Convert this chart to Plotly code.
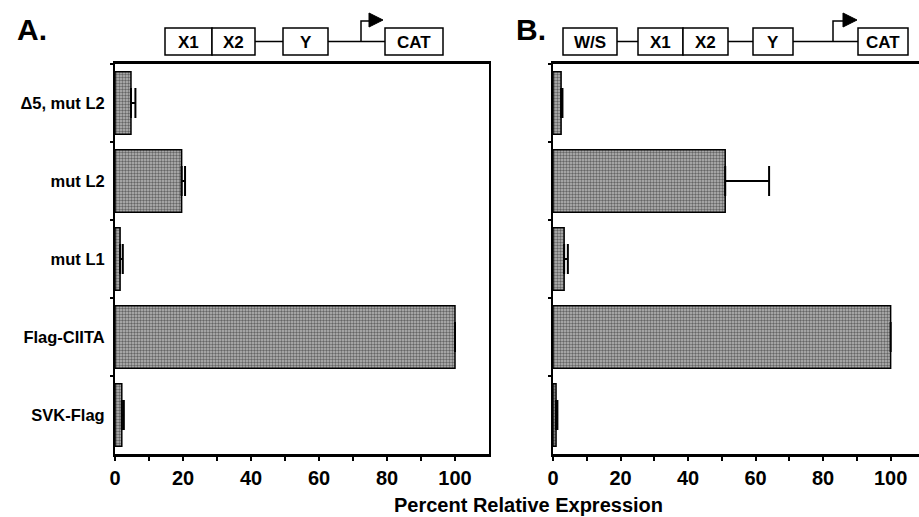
import plotly.graph_objects as go

W, H = 919, 517

categories = ["\u03945, mut L2", "mut L2", "mut L1", "Flag-CIITA", "SVK-Flag"]
values_a = [4.7, 19.6, 1.5, 100.0, 2.0]
errors_a = [1.3, 1.0, 0.8, 0.0, 0.6]
values_b = [2.4, 51.0, 3.3, 100.0, 0.9]
errors_b = [0.4, 13.0, 1.1, 0.0, 0.4]
x_ticks = [0, 20, 40, 60, 80, 100]

FONT = "Liberation Sans"


def px(x):
    return x / W


def py(y):
    return 1 - y / H


bar_marker = dict(
    color="#a0a0a0",
    line=dict(color="black", width=1.5),
    pattern=dict(shape=".", fgcolor="#111111", bgcolor="#b8b8b8", size=3, solidity=0.5),
)
err_style = dict(type="data", symmetric=False, color="black", thickness=2, width=15)

fig = go.Figure()
fig.add_trace(go.Bar(
    x=values_a, y=categories, orientation="h", marker=bar_marker,
    error_x=dict(array=errors_a, arrayminus=[0] * len(errors_a), **err_style),
    xaxis="x", yaxis="y", showlegend=False,
))
fig.add_trace(go.Bar(
    x=values_b, y=categories, orientation="h", marker=bar_marker,
    error_x=dict(array=errors_b, arrayminus=[0] * len(errors_b), **err_style),
    xaxis="x2", yaxis="y2", showlegend=False,
))

y_dom = [py(454), py(64)]
xcommon = dict(
    tickmode="array", tickvals=x_ticks, ticks="outside", ticklen=4, tickwidth=2,
    tickcolor="black", showline=True, linecolor="black", linewidth=2.5,
    showgrid=False, zeroline=False, mirror=True, automargin=False,
    tickfont=dict(family=FONT, size=20, color="black", weight="bold"),
    minor=dict(tickmode="array", tickvals=[10, 30, 50, 70, 90], ticks="outside",
               ticklen=4, tickwidth=2, tickcolor="black", showgrid=False),
)
ycommon = dict(
    type="category", autorange="reversed", tickson="boundaries", ticks="outside",
    ticklen=3, tickwidth=2, tickcolor="black", showline=True, linecolor="black",
    linewidth=2, showgrid=False, zeroline=False, domain=y_dom, automargin=False,
)

fig.update_layout(
    width=W, height=H, margin=dict(l=0, r=0, t=0, b=0, autoexpand=False),
    paper_bgcolor="white", plot_bgcolor="white", bargap=0.2,
    xaxis=dict(domain=[px(115), px(489)], range=[0, 110], anchor="y", **xcommon),
    xaxis2=dict(domain=[px(553), 1.0], range=[0, 108.4], anchor="y2", **xcommon),
    yaxis=dict(anchor="x", mirror=True, showticklabels=True,
               tickfont=dict(family=FONT, size=16.5, color="black", weight="bold"),
               ticklabelstandoff=5, **ycommon),
    yaxis2=dict(anchor="x2", mirror=False, showticklabels=False, **ycommon),
)


def label(text, x, y, size):
    return dict(text=text, x=px(x), y=py(y), xref="paper", yref="paper", showarrow=False,
                xanchor="center", yanchor="middle",
                font=dict(family=FONT, size=size, color="black", weight="bold"))


annotations = [
    label("Percent Relative Expression", 528, 505, 20),
    label("A.", 32, 29, 30),
    label("B.", 531, 29, 30),
]
shapes = []

BOX_T, BOX_B, MID = 28, 55, 41.5


def box(x0, x1, text):
    shapes.append(dict(type="rect", xref="paper", yref="paper", x0=px(x0), x1=px(x1),
                       y0=py(BOX_B), y1=py(BOX_T), line=dict(color="black", width=1.5),
                       fillcolor="white", layer="below"))
    annotations.append(label(text, (x0 + x1) / 2, (BOX_T + BOX_B) / 2 + 1, 17))


def hline(x0, x1):
    shapes.append(dict(type="line", xref="paper", yref="paper", x0=px(x0), x1=px(x1),
                       y0=py(MID), y1=py(MID), line=dict(color="black", width=1.5),
                       layer="below"))


def promoter(x, tip):
    shapes.append(dict(type="path", xref="paper", yref="paper",
                       path=f"M {px(x)},{py(MID)} L {px(x)},{py(21)} L {px(tip - 12)},{py(21)}",
                       line=dict(color="black", width=1.5)))
    shapes.append(dict(type="path", xref="paper", yref="paper",
                       path=f"M {px(tip - 14)},{py(13)} L {px(tip)},{py(20)} L {px(tip - 14)},{py(27)} Z",
                       fillcolor="black", line=dict(color="black", width=1)))


# Panel A construct
hline(255, 385)
box(165, 212, "X1")
box(212, 255, "X2")
box(283, 328, "Y")
promoter(361, 383)
box(385, 443, "CAT")

# Panel B construct
hline(617, 858)
box(563, 617, "W/S")
box(638, 683, "X1")
box(683, 728, "X2")
box(753, 793, "Y")
promoter(833, 857)
box(858, 908, "CAT")

fig.update_layout(annotations=annotations, shapes=shapes)
fig.write_html("out.html", config={"displayModeBar": False},
               post_script="document.body.style.margin='0';document.body.style.overflow='hidden';")
